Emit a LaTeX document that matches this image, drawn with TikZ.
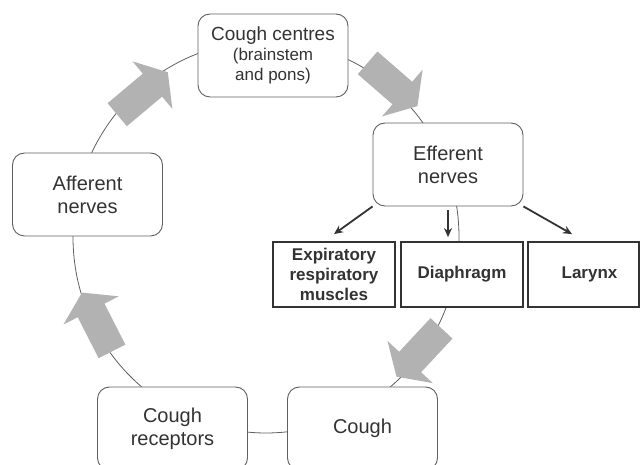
\documentclass[tikz,border=0pt]{standalone}
\usepackage{fontspec}
\setmainfont{Liberation Sans}
\usetikzlibrary{arrows.meta}

\definecolor{txtgray}{RGB}{51,51,51}
\definecolor{linegray}{RGB}{95,95,95}
\definecolor{arrowgray}{RGB}{178,178,178}

\tikzset{
  roundbox/.style={draw=linegray, line width=0.9pt, rounded corners=12pt, fill=white,
    text=txtgray, align=center, minimum width=150pt, minimum height=83pt, inner sep=0pt,
    font=\fontsize{20}{23}\selectfont},
  musclebox/.style={draw=txtgray, line width=1.8pt, fill=white, text=txtgray,
    align=center, minimum width=122pt, minimum height=65pt, inner sep=0pt,
    font=\bfseries\fontsize{17}{20}\selectfont},
  outarrow/.style={-{Stealth[length=9pt,width=8pt]}, line width=1.8pt, draw=txtgray},
}

% block arrow on the cycle: x, y, angle
\newcommand{\bigarrow}[3]{%
  \fill[arrowgray, shift={(#1,#2)}, rotate=#3]
    (-33,-15) -- (13,-15) -- (13,-31) -- (33,0) -- (13,31) -- (13,15) -- (-33,15) -- cycle;
}
\newcommand{\subtxt}{\fontsize{17}{20}\selectfont}

\begin{document}
\begin{tikzpicture}[x=1pt, y=1pt]
  \useasboundingbox (0,0) rectangle (640,465);
  % the cycle
  \draw[linegray, line width=0.8pt] (266,228) ellipse [x radius=193, y radius=196];

  \node[roundbox, font=\fontsize{19}{20}\selectfont] (centres) at (273,409.5)
    {Cough centres\\{\subtxt (brainstem}\\{\subtxt and pons)}};
  \node[roundbox] (efferent) at (448,300.5) {Efferent\\nerves};
  \node[roundbox] (afferent) at (87.5,270.5) {Afferent\\nerves};
  \node[roundbox] (receptors) at (172.5,36.5) {Cough\\receptors};
  \node[roundbox] (cough) at (362.5,36.5) {Cough};

  \node[musclebox] (expir) at (334,190.5) {Expiratory\\respiratory\\muscles};
  \node[musclebox] (diaph) at (462,190.5) {Diaphragm};
  \node[musclebox, minimum width=111pt] (larynx) at (583.5,190.5) {\hspace*{12pt}Larynx};

  \draw[outarrow] (efferent.south west) -- ([yshift=7pt]expir.north);
  \draw[outarrow] ([yshift=-4pt]efferent.south) -- ([yshift=4pt]efferent.south |- diaph.north);
  \draw[outarrow] (efferent.south east) -- ([xshift=-11.5pt,yshift=7pt]larynx.north);

  \bigarrow{142.5}{371.5}{40}
  \bigarrow{392.5}{380.5}{-41}
  \bigarrow{419}{112.5}{227}
  \bigarrow{97}{143}{117}
\end{tikzpicture}
\end{document}
